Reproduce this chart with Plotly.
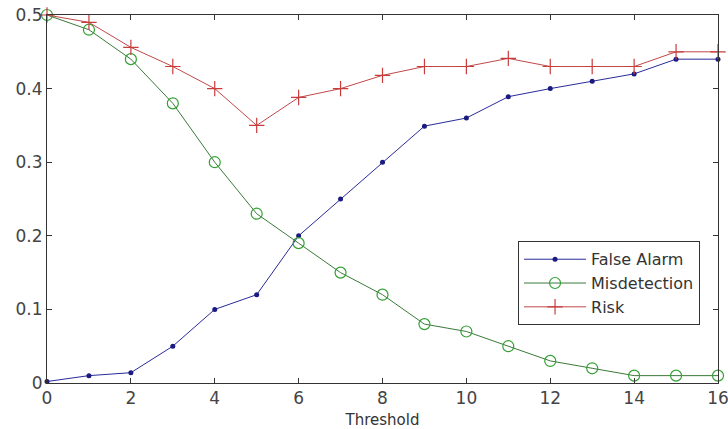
import plotly.graph_objects as go

threshold = list(range(17))
false_alarm = [0.002, 0.01, 0.014, 0.05, 0.10, 0.12, 0.20, 0.25, 0.30, 0.349, 0.36, 0.389, 0.40, 0.41, 0.42, 0.44, 0.44]
misdetection = [0.50, 0.48, 0.44, 0.38, 0.30, 0.23, 0.19, 0.15, 0.12, 0.08, 0.07, 0.05, 0.03, 0.02, 0.01, 0.01, 0.01]
risk = [0.50, 0.49, 0.456, 0.43, 0.40, 0.35, 0.388, 0.40, 0.418, 0.43, 0.43, 0.441, 0.43, 0.43, 0.43, 0.45, 0.45]

x_ticks = [0, 2, 4, 6, 8, 10, 12, 14, 16]
y_ticks = [0, 0.1, 0.2, 0.3, 0.4, 0.5]
y_ticktext = ["0", "0.1", "0.2", "0.3", "0.4", "0.5"]

font = "DejaVu Sans, sans-serif"

fig = go.Figure()
fig.add_trace(go.Scatter(
    x=threshold, y=false_alarm, name="False Alarm", mode="lines+markers",
    line=dict(color="#2a2a9a", width=1),
    marker=dict(symbol="circle", size=5, color="#1a1a80"),
    cliponaxis=False,
))
fig.add_trace(go.Scatter(
    x=threshold, y=misdetection, name="Misdetection", mode="lines+markers",
    line=dict(color="#3a7a3a", width=1),
    marker=dict(symbol="circle-open", size=11, color="#33a033", line=dict(width=1.2)),
    cliponaxis=False,
))
fig.add_trace(go.Scatter(
    x=threshold, y=risk, name="Risk", mode="lines+markers",
    line=dict(color="#c04848", width=1),
    marker=dict(symbol="cross-thin", size=11, color="#c83c3c", line=dict(width=1.2, color="#c83c3c")),
    cliponaxis=False,
))

axis_common = dict(
    showgrid=False, zeroline=False, showline=True, linecolor="#333333", linewidth=1,
    mirror="ticks", ticks="inside", ticklen=5, tickcolor="#333333", automargin=False,
    ticklabeloverflow="allow",
    tickfont=dict(family=font, size=17, color="#444444"),
)

fig.update_layout(
    width=728, height=429,
    margin=dict(l=47, r=10, t=15, b=46),
    paper_bgcolor="white", plot_bgcolor="white",
    showlegend=True,
    legend=dict(
        x=0.702, y=0.385, xanchor="left", yanchor="top",
        bgcolor="white", bordercolor="#333333", borderwidth=1,
        font=dict(family=font, size=16, color="#333333"),
        tracegroupgap=0, itemwidth=62,
    ),
    xaxis=dict(range=[0, 16], tickvals=x_ticks,
               title=dict(text="Threshold", font=dict(family=font, size=15, color="#333333"), standoff=7),
               **axis_common),
    yaxis=dict(range=[0, 0.5], tickvals=y_ticks, ticktext=y_ticktext, **axis_common),
)

fig.write_html("out.html", config={"displayModeBar": False},
               post_script="document.body.style.margin='0';")
